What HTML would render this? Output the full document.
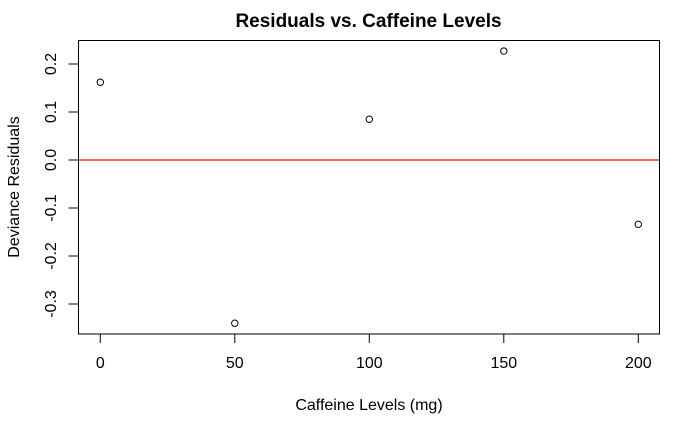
<!DOCTYPE html>
<html><head><meta charset="utf-8"><style>
html,body{margin:0;padding:0;background:#fff;}
svg{display:block;font-family:"Liberation Sans",Arial,sans-serif;}
</style></head><body>
<svg id="chart" width="700" height="432" viewBox="0 0 700 432" xmlns="http://www.w3.org/2000/svg">
<text x="368.5" y="27" text-anchor="middle" font-size="19" font-weight="bold">Residuals vs. Caffeine Levels</text>
<text x="369" y="410" text-anchor="middle" font-size="16">Caffeine Levels (mg)</text>
<text transform="translate(19,187) rotate(-90)" text-anchor="middle" font-size="16">Deviance Residuals</text>
<rect x="78.5" y="40.5" width="581" height="293.5" fill="none" stroke="#000" stroke-width="1"/>
<g id="marks"></g>
</svg>
<script>
const caffeine = [0, 50, 100, 150, 200];
const residuals = [0.162, -0.340, 0.085, 0.227, -0.134];
const xTicks = [0, 50, 100, 150, 200];
const yTicks = [-0.3, -0.2, -0.1, 0.0, 0.1, 0.2];
const yTickLabels = ["-0.3", "-0.2", "-0.1", "0.0", "0.1", "0.2"];

const NS = "http://www.w3.org/2000/svg";
const g = document.getElementById('marks');
function xs(v){ return 100.3 + (v - 0) * (638.3 - 100.3) / 200; }
function ys(v){ return 160 - v * 480; }
function mk(tag, attrs){ const e = document.createElementNS(NS, tag); for (const k in attrs) e.setAttribute(k, attrs[k]); g.appendChild(e); return e; }

xTicks.forEach(function(t){
  const x = xs(t);
  const l = mk('line', {x1:x, x2:x, y1:334, y2:343, stroke:'#000'});
  
  
  const tx = mk('text', {x:x, y:368, 'text-anchor':'middle', 'font-size':16});
  tx.textContent = String(t);
  
  
});
yTicks.forEach(function(t, i){
  const y = ys(t);
  const l = mk('line', {x1:68.5, x2:78.5, y1:y, y2:y, stroke:'#000'});
  
  
  const tx = mk('text', {transform:'translate(56,' + y + ') rotate(-90)', 'text-anchor':'middle', 'font-size':16});
  tx.textContent = yTickLabels[i];
  
  
});
const zl = mk('line', {x1:79, x2:659, y1:ys(0), y2:ys(0), stroke:'#ff0000', 'stroke-width':1.2});


caffeine.forEach(function(c, i){
  const p = mk('circle', {cx:xs(c), cy:ys(residuals[i]), r:3.2, fill:'none', stroke:'#000', 'stroke-width':1});
  
  
});
</script>
</body></html>
